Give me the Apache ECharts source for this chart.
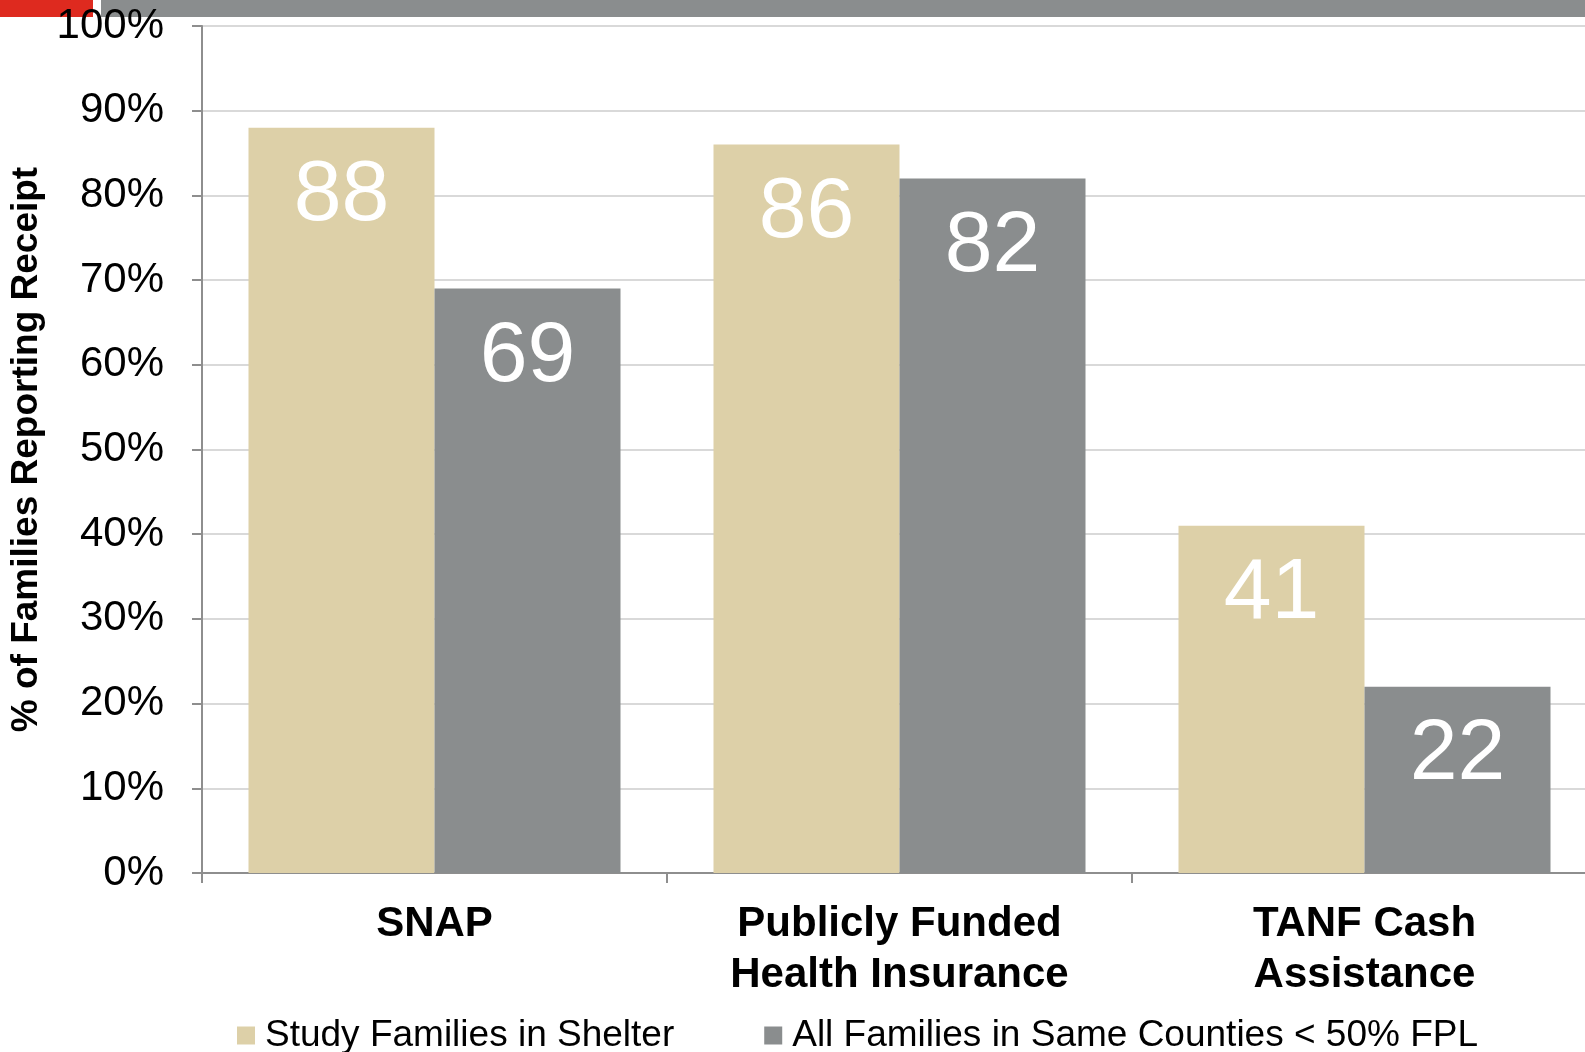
<!DOCTYPE html>
<html><head><meta charset="utf-8">
<script src="https://cdn.jsdelivr.net/npm/echarts@6/dist/echarts.min.js"></script>
<style>html,body{margin:0;padding:0;background:#fff}#c{width:1585px;height:1052px}</style>
</head><body><div id="c"></div>
<script>
const categories = ['SNAP', 'Publicly Funded\nHealth Insurance', 'TANF Cash\nAssistance'];
const seriesNames = ['Study Families in Shelter', 'All Families in Same Counties < 50% FPL'];
const shelterValues = [88, 86, 41];
const countyValues = [69, 82, 22];
const yTicks = [0, 10, 20, 30, 40, 50, 60, 70, 80, 90, 100];

const chart = echarts.init(document.getElementById('c'));
const font = 'Liberation Sans, Arial, sans-serif';
const labelCfg = {show: true, position: 'insideTop', distance: 26, color: '#fff', fontSize: 86, fontFamily: font};
chart.setOption({
  animation: false,
  graphic: [
    {type: 'rect', shape: {x: 0, y: 0, width: 93, height: 17}, style: {fill: '#DE2A1F'}},
    {type: 'rect', shape: {x: 101, y: 0, width: 1484, height: 17}, style: {fill: '#8A8D8E'}}
  ],
  grid: {left: 202, right: -12, top: 26, bottom: 179, containLabel: false, outerBoundsMode: 'none'},
  legend: {
    top: 1012, left: 232, itemGap: 90, itemWidth: 18, itemHeight: 18,
    icon: 'rect',
    textStyle: {fontSize: 37, fontFamily: font, color: '#000', padding: [0, 0, 0, 5]},
    data: seriesNames
  },
  xAxis: {
    type: 'category', data: categories,
    axisLine: {lineStyle: {color: '#8e8e8e', width: 2}},
    axisTick: {show: true, length: 10, lineStyle: {color: '#8e8e8e', width: 2}},
    axisLabel: {fontSize: 42, fontWeight: 'bold', fontFamily: font, color: '#000', lineHeight: 51, margin: 26}
  },
  yAxis: {
    type: 'value', min: 0, max: 100, interval: 10,
    name: '% of Families Reporting Receipt', nameLocation: 'middle', nameGap: 152,
    nameTextStyle: {fontSize: 37, fontWeight: 'bold', fontFamily: font, color: '#000'},
    axisLine: {show: true, lineStyle: {color: '#8e8e8e', width: 2}},
    axisTick: {show: true, length: 10, lineStyle: {color: '#8e8e8e', width: 2}},
    splitLine: {lineStyle: {color: '#d9d9d9', width: 2}},
    axisLabel: {fontSize: 42, fontFamily: font, color: '#000', margin: 38,
      formatter: v => yTicks.includes(v) ? v + '%' : ''}
  },
  series: [
    {name: seriesNames[0], type: 'bar', data: shelterValues, barWidth: 186, barGap: '0%',
      itemStyle: {color: '#DDD0A8'}, label: labelCfg},
    {name: seriesNames[1], type: 'bar', data: countyValues, barWidth: 186, barGap: '0%',
      itemStyle: {color: '#8A8D8E'}, label: labelCfg}
  ]
});
</script></body></html>
